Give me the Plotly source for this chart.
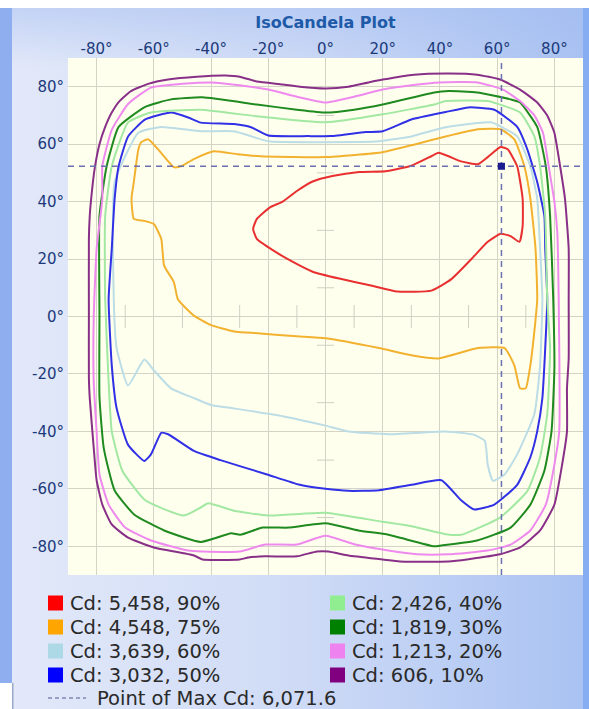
import base64
import plotly.graph_objects as go

# ---------------- data (degrees) ----------------
cd90_x = [-25.3, -24, -19.4, -15, -10, -4.5, 2.4, 11.8, 21, 30, 37, 39.5, 43, 47.4, 53.3, 56.7, 61.2, 63.7, 67, 68.9, 68.9, 67.8, 64.7, 61.2, 56.7, 51, 44, 37, 25, 16.3, 4.8, -4.5, -11.4, -18.3, -24, -25.3]
cd90_y = [30.5, 34, 38, 40, 43.7, 47, 48.9, 50.3, 50.6, 52.5, 55.8, 57, 55.8, 54, 53, 55.5, 59, 58.2, 52.3, 41, 31.5, 26, 28, 28.8, 26, 20, 13, 9, 8.7, 10.7, 13.2, 15.6, 19, 23, 27, 30.5]

cd75_x = [-64.4, -62, -58.5, -53, -50.5, -46, -39, -30.8, -22.8, 0, 20, 31.5, 42, 53.3, 61.2, 66, 69.5, 71.6, 73.4, 74, 73, 71.6, 70, 68, 66, 62.6, 53.3, 39.5, 30, 18.7, 0, -10, -22.8, -32, -40, -46, -51.6, -53, -56.4, -57.4, -60, -63.3, -67, -67.8, -67, -65.4, -64.4]
cd75_y = [60.7, 61.7, 58.2, 52, 52.3, 54.8, 57.5, 56.5, 55.8, 55.5, 57.2, 60, 62.7, 65.2, 65.2, 61.7, 52.3, 41, 23.6, 6, -5.2, -17, -25, -25, -17, -11, -11, -14.6, -13.5, -11, -7.6, -6.9, -5.9, -5.2, -3, 0.3, 6, 12, 17.7, 27, 32.2, 33.3, 34, 41, 46.8, 58.2, 60.7]

cd60_x = [-74, -73.7, -65.4, -57.4, -43.6, -32, -20, 0, 18.7, 30, 42, 57.8, 67, 71.6, 74, 75, 75.8, 75, 73, 67, 62.6, 58.5, 56.7, 55.7, 52, 42, 22, 8, 0, -15, -32, -40, -46, -54, -60, -63.3, -69, -73, -74]
cd60_y = [6, 46.8, 64, 66, 64.5, 64.5, 61, 60.7, 61, 62.7, 65.9, 67.6, 62.7, 52.3, 41, 23.6, 6, -17, -34, -48, -55, -57.2, -51.6, -43.3, -41.2, -40, -41, -40, -38, -34.7, -32, -30.8, -28.4, -25, -18.7, -15, -24, -11, 6]

cd50_x = [-75.8, -74.7, -73.7, -72.3, -69, -63, -54, -48, -43.6, -32, -26, -20, -6, 2, 14, 20, 30, 42, 50, 59, 67, 70.6, 74, 76.5, 76.8, 77.5, 76.8, 75.8, 74, 71.6, 67, 59, 52, 47.4, 40.5, 30, 18.7, 8, 0, -9, -20.4, -36.7, -46, -55, -57.4, -61, -63.3, -69, -73, -74.7, -75.8]
cd50_y = [6, 23.6, 41, 52.3, 62.7, 68.6, 71, 69.3, 67.5, 67, 65.9, 63, 62.8, 62.8, 64.2, 64.5, 68.6, 71.2, 72.8, 72, 66, 58, 46.8, 35, 23.6, 6, -11, -28.4, -40, -49, -58.6, -65.5, -67.2, -64, -57, -58.6, -60.5, -60.7, -60, -58.6, -55, -50, -46.8, -41, -40.5, -48, -50.3, -44.7, -32, -17, 6]

cd40_x = [-77, -77, -74.7, -69, -61, -43.6, -24, 0, 20, 38, 42, 56.7, 68, 73, 75, 76.8, 77.5, 78.5, 77.5, 75, 70.6, 61, 47.4, 42, 30, 20, 0, -20, -32, -41, -43.6, -49.5, -63, -71, -74.7, -75.8, -77]
cd40_y = [6, 35, 52.3, 67.6, 71, 72, 69.7, 67.6, 70.4, 73.8, 75, 75, 71, 62.7, 52.3, 35, 6, -11, -34, -49, -60.7, -70, -76, -75.8, -73, -71.5, -68.3, -69.3, -67.6, -65, -66.5, -69.3, -64, -53.7, -40, -23, 6]

cd30_x = [-79, -79, -76.5, -72.3, -63, -54, -43, -24, -10, 0, 10, 20, 38, 43, 53, 64.7, 68, 74, 77, 78.5, 79.6, 80, 79, 76.5, 71.6, 64.7, 53, 40.5, 38, 22, 11.5, 0, -13, -22, -29.8, -33, -43.6, -56.4, -66.8, -73.7, -77.5, -79, -79]
cd30_y = [0, 35, 52.3, 66, 73, 75.6, 76.3, 73.8, 72, 71, 72, 73.8, 78, 78.5, 78, 75.6, 74.5, 66, 52.3, 35, 6, -18, -40, -53.7, -65.5, -73.5, -78, -79.7, -80, -76, -74.5, -72, -73.5, -73.5, -76, -75.5, -78.5, -74.5, -69, -60.6, -45.8, -28, 0]

cd20_x = [-81, -80, -78, -78, -74.7, -69, -61, -50, -40, -30, -20, -10, 0, 10, 20, 30, 40, 53, 62, 68, 73, 76, 78, 80, 81, 81.5, 81.7, 80, 77, 71.6, 64.7, 56.7, 43, 32, 22, 10.4, 0, -10, -21, -30, -43, -48, -61, -70, -75.8, -79, -80, -81, -81]
cd20_y = [0, 23.6, 41, 52.3, 65, 74, 79.7, 81, 81.5, 80.5, 79, 76.5, 74.5, 76.5, 79, 80.5, 81.5, 81.5, 79, 75, 70, 64, 52.3, 40, 29.5, 6, -40, -51.6, -65.5, -74.5, -79.4, -81.5, -82.8, -82.8, -81.5, -79.4, -76.3, -79.4, -79.4, -81.8, -81.8, -81.5, -78, -73.5, -65.5, -55, -40, -23, 0]

cd10_x = [-82.7, -82.7, -82.4, -81.7, -80.6, -79, -77, -74.7, -72, -68, -62, -55, -45, -35, -30, -24, -15, -9, 0, 8, 15, 20, 31, 43, 53, 61, 68, 74, 77.5, 80, 82, 83.7, 85, 85, 85, 84.4, 84.4, 82.7, 80, 75, 68, 61, 50, 43, 26, 20, 8, 1, -3, -10, -21, -27, -30, -43, -46, -60, -69, -74.7, -78, -80, -81, -82.4, -82.7, -82.7]
cd10_y = [0, 27, 35, 43, 52, 60, 66, 71, 75, 78.5, 81, 82.5, 83.5, 83.9, 83.5, 81.8, 80.8, 80, 79.4, 80, 81.5, 82.5, 84.2, 84.6, 84.2, 82.5, 79, 74.5, 70, 64, 52.3, 41, 23.6, 6, -14.6, -25, -40, -51.6, -65.5, -74.5, -80.4, -82.8, -84.5, -85.3, -85.3, -84.6, -83.2, -81.8, -81.8, -83.5, -83.5, -83.9, -84.6, -84.6, -83.2, -80.4, -77, -72.4, -65.5, -57, -45.8, -28.4, -21.5, 0]

max_x = 61.5
max_y = 52.3
max_cd = "6,071.6"

level_labels = ["Cd: 5,458, 90%", "Cd: 4,548, 75%", "Cd: 3,639, 60%", "Cd: 3,032, 50%",
                "Cd: 2,426, 40%", "Cd: 1,819, 30%", "Cd: 1,213, 20%", "Cd: 606, 10%"]
level_x = [cd90_x, cd75_x, cd60_x, cd50_x, cd40_x, cd30_x, cd20_x, cd10_x]
level_y = [cd90_y, cd75_y, cd60_y, cd50_y, cd40_y, cd30_y, cd20_y, cd10_y]
legend_colors = ["#ff0000", "#ffa500", "#add8e6", "#0000ff", "#90ee90", "#008000", "#ee82ee", "#800080"]
line_colors = ["#e83030", "#f2b230", "#bcdde6", "#3030e6", "#a2e8a2", "#1f8a1f", "#ee8aee", "#883088"]

tick_vals = [-80, -60, -40, -20, 0, 20, 40, 60, 80]
tick_text = [f"{v}°" for v in tick_vals]
minor_vals = [-70, -50, -30, -10, 10, 30, 50, 70]
axis_range = [-90, 90]

# ---------------- layout geometry ----------------
W, H = 589, 709
ML, MR, MT, MB = 68, 6, 58, 134
PW, PH = W - ML - MR, H - MT - MB
FONT = "DejaVu Sans"


def px_x(p):
    return (p - ML) / PW


def px_y(p):
    return 1 - (p - MT) / PH


svg = f"""<svg xmlns='http://www.w3.org/2000/svg' width='{W}' height='{H}' viewBox='0 0 {W} {H}' preserveAspectRatio='none'>
<defs>
<linearGradient id='g' x1='0' y1='0' x2='1' y2='0'>
<stop offset='0' stop-color='#e3e9f9'/><stop offset='0.5' stop-color='#cfdbf6'/><stop offset='1' stop-color='#a9c2f2'/>
</linearGradient>
<linearGradient id='t' x1='0' y1='0' x2='0' y2='1'>
<stop offset='0' stop-color='#9fbaf0' stop-opacity='0.45'/><stop offset='1' stop-color='#9fbaf0' stop-opacity='0'/>
</linearGradient>
</defs>
<rect x='0' y='0' width='{W}' height='{H}' fill='url(#g)'/>
<rect x='0' y='8' width='{W}' height='60' fill='url(#t)'/>
<rect x='0' y='0' width='{W}' height='8' fill='#ffffff'/>
<rect x='0' y='8' width='12' height='675' fill='#8eaef0'/>
<rect x='0' y='683' width='12' height='26' fill='#ffffff'/>
<rect x='12' y='683' width='1.5' height='26' fill='#9aa8c8'/>
<rect x='583' y='8' width='6' height='{H-8}' fill='#86acf2'/>
<rect x='{ML}' y='{MT}' width='{PW}' height='{PH}' fill='#ffffee'/>
</svg>"""
bg_src = "data:image/svg+xml;base64," + base64.b64encode(svg.encode()).decode()

fig = go.Figure()

# minor centre ticks
mx, my = [], []
for v in minor_vals:
    mx += [v, v, None]
    my += [-4, 4, None]
    mx += [-3, 3, None]
    my += [v, v, None]
fig.add_trace(go.Scatter(x=mx, y=my, mode="lines", line=dict(color="#cfcfc4", width=1),
                         showlegend=False, hoverinfo="skip"))

# contour lines
for name, xs, ys, c in zip(level_labels, level_x, level_y, line_colors):
    fig.add_trace(go.Scatter(x=xs, y=ys, mode="lines",
                             line=dict(color=c, width=2, shape="spline", smoothing=0.45),
                             showlegend=False, name=name))

# crosshair at max
fig.add_trace(go.Scatter(
    x=[max_x, max_x, None, axis_range[0], axis_range[1]],
    y=[axis_range[0], axis_range[1], None, max_y, max_y],
    mode="lines", line=dict(color="#6a70b0", width=1.5, dash="6px,5px"),
    showlegend=False, name="max"))
fig.add_trace(go.Scatter(x=[max_x], y=[max_y], mode="markers",
                         marker=dict(symbol="square", size=7, color="#1c1c90"),
                         showlegend=False, name="Max Cd"))

# ---------------- legend (two columns, column-major) ----------------
shapes = []
annotations = []
LEG_FONT = dict(family=FONT, size=19.5, color="#2a2a2a")
col_x = [48, 330]
row_y0, row_dy = 603, 24
sq = 15
for i, (lab, c) in enumerate(zip(level_labels, legend_colors)):
    col, row = divmod(i, 4)
    cx = col_x[col]
    cy = row_y0 + row * row_dy
    shapes.append(dict(type="rect", xref="paper", yref="paper",
                       x0=px_x(cx), x1=px_x(cx + sq), y0=px_y(cy - sq / 2), y1=px_y(cy + sq / 2),
                       fillcolor=c, line=dict(width=0), layer="above"))
    annotations.append(dict(text=lab, xref="paper", yref="paper", x=px_x(cx + sq + 5), y=px_y(cy),
                            xanchor="left", yanchor="middle", showarrow=False, font=LEG_FONT))
cy = row_y0 + 4 * row_dy - 1
shapes.append(dict(type="line", xref="paper", yref="paper",
                   x0=px_x(48), x1=px_x(86), y0=px_y(cy), y1=px_y(cy),
                   line=dict(color="#8088b0", width=1.5, dash="4px,3px")))
annotations.append(dict(text=f"Point of Max Cd: {max_cd}", xref="paper", yref="paper",
                        x=px_x(95), y=px_y(cy), xanchor="left", yanchor="middle",
                        showarrow=False, font=LEG_FONT))

axis_common = dict(range=axis_range, tickvals=tick_vals, ticktext=tick_text,
                   showgrid=True, gridcolor="#d3d3c6", gridwidth=1, zeroline=False,
                   showline=False, ticks="", fixedrange=True,
                   tickfont=dict(family=FONT, size=15, color="#1b3a7a"))

fig.update_layout(
    width=W, height=H,
    margin=dict(l=ML, r=MR, t=MT, b=MB, pad=0),
    paper_bgcolor="rgba(0,0,0,0)",
    plot_bgcolor="rgba(0,0,0,0)",
    title=dict(text="<b>IsoCandela Plot</b>", x=0.5, xref="paper", xanchor="center",
               y=1 - 22 / H, yref="container", yanchor="middle",
               font=dict(family=FONT, size=16, color="#1d5aa8")),
    xaxis=dict(side="top", **axis_common),
    yaxis=dict(ticklabelstandoff=3, **axis_common),
    showlegend=False,
    shapes=shapes,
    annotations=annotations,
    images=[dict(source=bg_src, xref="paper", yref="paper",
                 x=-ML / PW, y=1 + MT / PH, sizex=W / PW, sizey=H / PH,
                 xanchor="left", yanchor="top", sizing="stretch", layer="below")],
)

fig.write_html("out.html")
